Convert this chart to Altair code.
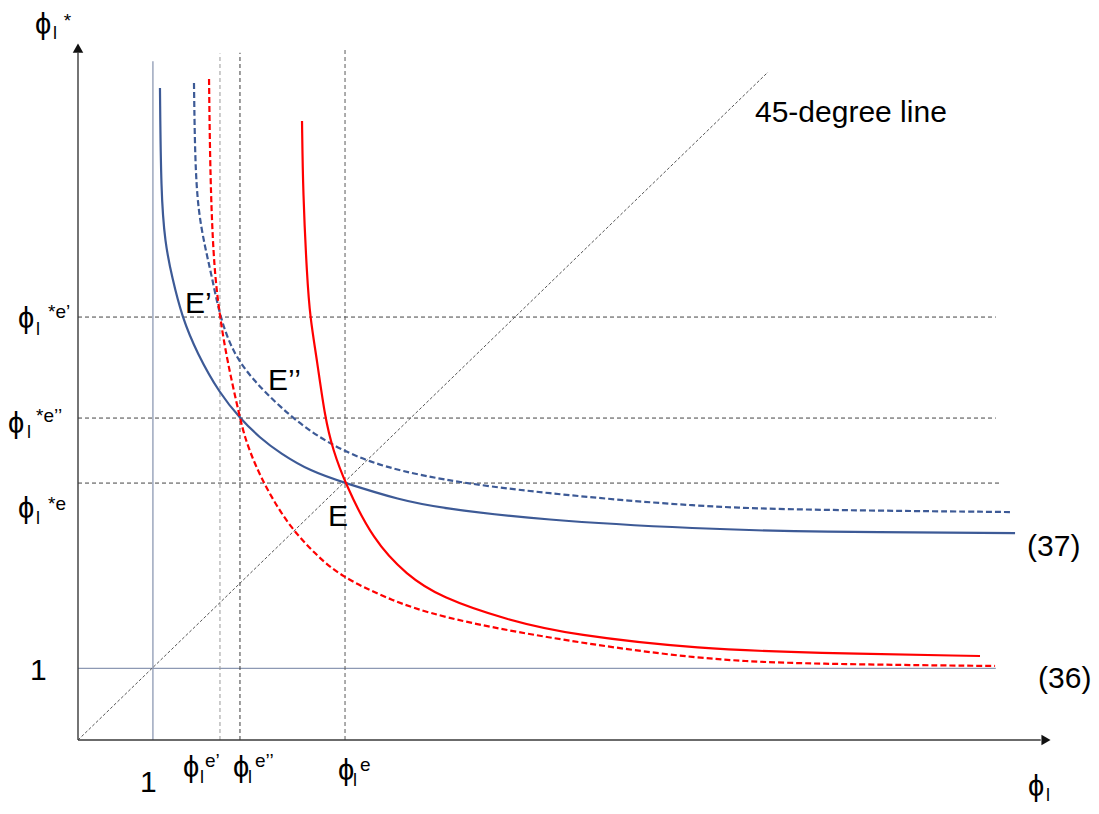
import altair as alt
import pandas as pd

# ---------------- data (axis units) ----------------
# curve (37), solid blue
b37_x = [1.094, 1.108, 1.161, 1.255, 1.388, 1.588, 1.895, 2.162, 2.429, 2.696, 3.097, 3.564, 4.298, 4.832, 6.167, 8.302, 9.810, 12.507]
b37_y = [9.106, 7.640, 6.941, 6.466, 5.908, 5.405, 4.832, 4.497, 4.218, 4.008, 3.757, 3.589, 3.352, 3.240, 3.073, 2.947, 2.905, 2.891]
# shifted (37), dashed blue
b37d_x = [1.548, 1.562, 1.602, 1.695, 1.788, 1.895, 2.069, 2.336, 2.696, 3.163, 3.857, 4.832, 6.167, 8.302, 9.810, 12.467]
b37d_y = [9.176, 8.101, 7.402, 6.885, 6.466, 5.908, 5.405, 5.028, 4.651, 4.246, 3.869, 3.631, 3.450, 3.254, 3.212, 3.184]
# curve (36), solid red
r36_x = [2.990, 3.003, 3.057, 3.097, 3.190, 3.297, 3.404, 3.564, 3.937, 4.391, 4.832, 5.726, 6.607, 8.302, 9.810, 12.039]
r36_y = [8.645, 7.640, 6.466, 5.908, 5.307, 4.497, 4.050, 3.589, 2.793, 2.300, 1.997, 1.676, 1.466, 1.271, 1.215, 1.173]
# shifted (36), dashed red
r36d_x = [1.749, 1.762, 1.789, 1.829, 1.895, 1.989, 2.162, 2.229, 2.363, 2.563, 2.830, 3.163, 3.497, 4.164, 4.832, 6.167, 8.302, 9.810, 12.240]
r36d_y = [9.232, 8.101, 7.165, 6.466, 5.908, 5.307, 4.497, 4.218, 3.841, 3.422, 2.975, 2.600, 2.290, 1.955, 1.718, 1.439, 1.117, 1.061, 1.034]

# equilibrium levels
eq_y = [5.908, 4.497, 3.589]          # phi*e', phi*e'', phi*e
eq_y_end = [12.25, 12.25, 12.31]
eq_x = [1.895, 2.162, 3.564]          # phi e', phi e'', phi e
eq_x_top = [9.59, 9.60, 9.65]
eq_x_color = ["#9a9a9a", "#3a3a3a", "#5a5a5a"]

one_x_top = 9.48
one_y_end = 12.25
diag_end = [9.21, 9.33]
x_axis_end = 12.85
y_axis_end = 9.60

PHI = "\u03d5"

# labels: x, y (baseline-left), text, font size
lab_x = [-0.574, -0.334, -0.190,
         -0.801, -0.561, -0.400,
         -0.934, -0.681, -0.560,
         -0.801, -0.561, -0.400,
         -0.641,
         1.401, 1.628, 1.695,
         2.069, 2.269, 2.363,
         3.470, 3.671, 3.764,
         0.828,
         12.680, 12.920,
         1.428, 2.536, 3.337,
         9.036, 12.667, 12.814]
lab_y = [9.860, 9.790, 9.958,
         5.754, 5.656, 5.894,
         4.288, 4.218, 4.441,
         3.101, 3.017, 3.212,
         0.838,
         -0.517, -0.601, -0.377,
         -0.517, -0.601, -0.377,
         -0.559, -0.642, -0.433,
         -0.726,
         -0.782, -0.852,
         5.964, 4.888, 2.989,
         8.631, 2.570, 0.726]
lab_t = [PHI, "l", "*",
         PHI, "l", "*e’",
         PHI, "l", "*e’’",
         PHI, "l", "*e",
         "1",
         PHI, "l", "e’",
         PHI, "l", "e’’",
         PHI, "l", "e",
         "1",
         PHI, "l",
         "E’", "E’’", "E",
         "45-degree line", "(37)", "(36)"]
lab_s = [29, 18, 19,
         29, 18, 19,
         29, 18, 19,
         29, 18, 19,
         30,
         29, 18, 19,
         29, 18, 19,
         29, 18, 19,
         30,
         29, 18,
         30, 30, 30,
         30, 30, 30]

# ---------------- chart ----------------
xs = alt.Scale(domain=[0, 13], nice=False, zero=False)
ys = alt.Scale(domain=[0, 9.75], nice=False, zero=False)
X = lambda f: alt.X(f, scale=xs, axis=None)
Y = lambda f: alt.Y(f, scale=ys, axis=None)

BLUE = "#3d5a96"
RED = "#ff0000"
FONT = "Liberation Sans"


def curve(xv, yv, color, dash=None):
    df = pd.DataFrame({"x": xv, "y": yv, "i": list(range(len(xv)))})
    kw = dict(color=color, strokeWidth=2.2, interpolate="basis", clip=False)
    if dash:
        kw["strokeDash"] = dash
    return alt.Chart(df).mark_line(**kw).encode(x=X("x:Q"), y=Y("y:Q"), order="i:Q")


def rules(df, color, width=1.0, dash=None):
    kw = dict(color=color, strokeWidth=width)
    if dash:
        kw["strokeDash"] = dash
    return alt.Chart(df).mark_rule(**kw).encode(
        x=X("x:Q"), y=Y("y:Q"), x2="x2:Q", y2="y2:Q")


h_df = pd.DataFrame({"x": [0.0] * 3, "x2": eq_y_end, "y": eq_y, "y2": eq_y})
v_dfs = [pd.DataFrame({"x": [eq_x[i]], "x2": [eq_x[i]], "y": [0.0], "y2": [eq_x_top[i]]}) for i in range(3)]
one_df = pd.DataFrame({"x": [1.0, 0.0], "x2": [1.0, one_y_end], "y": [0.0, 1.0], "y2": [one_x_top, 1.0]})
diag_df = pd.DataFrame({"x": [0.0], "x2": [diag_end[0]], "y": [0.0], "y2": [diag_end[1]]})
axes_df = pd.DataFrame({"x": [0.0, 0.0], "x2": [x_axis_end, 0.0], "y": [0.0, 0.0], "y2": [0.0, y_axis_end]})
arrow_df = pd.DataFrame({"x": [0.0, 12.92], "y": [9.665, 0.0], "shape": ["triangle-up", "triangle-right"]})
lab_df = pd.DataFrame({"x": lab_x, "y": lab_y, "t": lab_t, "s": lab_s})

layers = [
    rules(one_df, "#8d99b3", 1.3),
    rules(h_df, "#444444", 1.0, [4, 3]),
    rules(v_dfs[0], eq_x_color[0], 1.0, [4, 3]),
    rules(v_dfs[1], eq_x_color[1], 1.0, [4, 3]),
    rules(v_dfs[2], eq_x_color[2], 1.0, [4, 3]),
    rules(diag_df, "#555555", 1.0, [3, 2]),
    curve(b37_x, b37_y, BLUE),
    curve(b37d_x, b37d_y, BLUE, [6, 3]),
    curve(r36_x, r36_y, RED),
    curve(r36d_x, r36d_y, RED, [6, 3]),
    rules(axes_df, "#3a3a3a", 1.4),
    alt.Chart(arrow_df).mark_point(filled=True, color="#111111", size=110, opacity=1).encode(
        x=X("x:Q"), y=Y("y:Q"), shape=alt.Shape("shape:N", scale=None)),
    alt.Chart(lab_df).mark_text(align="left", baseline="alphabetic", font=FONT, color="#000000").encode(
        x=X("x:Q"), y=Y("y:Q"), text="t:N", size=alt.Size("s:Q", scale=None)),
]

chart = alt.layer(*layers).properties(
    width=974, height=698, autosize="none",
    padding={"left": 70, "top": 34, "right": 39, "bottom": 64},
).configure_view(stroke=None)

chart.save("out.html", embed_options={"renderer": "svg", "actions": False})
